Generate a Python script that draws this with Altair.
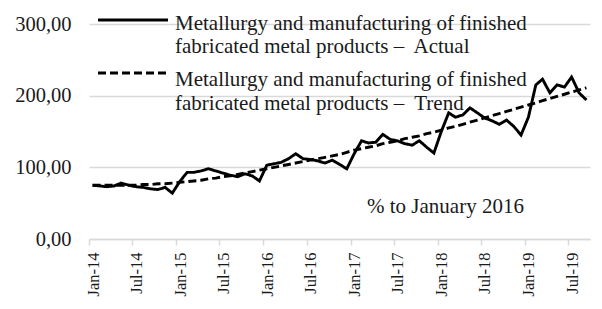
import altair as alt
import pandas as pd

# ---- data ----
start_month = "2014-01-01"
n_months = 69  # Jan-14 .. Sep-19

actual = [
    75, 74, 73, 74, 78, 75, 73, 72, 70, 69, 72, 64,          # 2014
    80, 93, 93, 95, 98, 95, 92, 89, 87, 91, 88, 81,          # 2015
    103, 105, 107, 112, 119, 112, 111, 109, 106, 110, 104, 98,  # 2016
    119, 137, 134, 135, 146, 139, 137, 133, 131, 137, 128, 120,  # 2017
    150, 176, 170, 173, 183, 176, 169, 165, 160, 166, 157, 145,  # 2018
    170, 215, 223, 204, 215, 212, 226, 204, 194,              # 2019
]

trend = [
    75, 75, 75, 75, 75, 75, 75, 76, 76, 77, 77, 78,
    79, 80, 81, 82, 84, 85, 87, 88, 90, 92, 94, 96,
    98, 100, 102, 104, 106, 108, 110, 112, 114, 116, 118, 121,
    124, 126, 128, 130, 133, 135, 137, 140, 142, 144, 147, 149,
    152, 155, 157, 160, 163, 166, 169, 172, 175, 178, 181, 184,
    187, 190, 193, 196, 199, 202, 205, 208, 211,
]

series_names = [
    "Metallurgy and manufacturing of finished\nfabricated metal products \u2013\u00a0 Actual",
    "Metallurgy and manufacturing of finished\nfabricated metal products \u2013\u00a0 Trend",
]
y_ticks = [0, 100, 200, 300]
tick_years = [2014, 2015, 2016, 2017, 2018, 2019]
tick_months = [1, 7]
note_text = "% to January 2016"

# ---- build table ----
dates = pd.date_range(start_month, periods=n_months, freq="MS") + pd.Timedelta(days=15)
df = pd.concat([
    pd.DataFrame({"date": dates, "value": actual, "series": series_names[0]}),
    pd.DataFrame({"date": dates, "value": trend, "series": series_names[1]}),
])

FONT = "Liberation Serif"
GRID = "#d9d9d9"
TXT = "#1a1a1a"

tick_values = [alt.DateTime(year=y, month=m, date=1) for y in tick_years for m in tick_months]

x_enc = alt.X(
    "date:T",
    title=None,
    scale=alt.Scale(domain=[alt.DateTime(year=2014, month=1, date=1),
                            alt.DateTime(year=2019, month=10, date=1)], nice=False),
    axis=alt.Axis(values=tick_values, format="%b-%y", labelAngle=-90,
                  labelFont=FONT, labelFontSize=16.5, labelColor=TXT,
                  labelOffset=4, labelPadding=7,
                  domainColor=GRID, domainWidth=1.5, tickColor=GRID, tickSize=6,
                  tickWidth=1.5, grid=False),
)
y_enc = alt.Y(
    "value:Q",
    title=None,
    scale=alt.Scale(domain=[0, 300], nice=False),
    axis=alt.Axis(values=y_ticks,
                  labelExpr="replace(format(datum.value, '.2f'), '.', ',')",
                  labelFont=FONT, labelFontSize=20.5, labelColor=TXT,
                  labelPadding=18, ticks=False, tickSize=0, domain=False,
                  grid=True, gridColor=GRID, gridWidth=1.5),
)

lines = alt.Chart(df).mark_line(strokeWidth=2.9, color="black").encode(
    x=x_enc,
    y=y_enc,
    strokeDash=alt.StrokeDash("series:N",
                              scale=alt.Scale(domain=series_names, range=[[1, 0], [8, 4]]),
                              legend=None),
)

layers = [lines]
legend_dashes = [[1, 0], [8, 4]]
symbol_y = [-4, 49]
text_y = [5.5, 62]
for i, name in enumerate(series_names):
    ldf = pd.DataFrame({"series": [name]})
    layers.append(
        alt.Chart(ldf).mark_rule(color="black", strokeWidth=2.9, strokeDash=legend_dashes[i]).encode(
            x=alt.value(9), x2=alt.value(79), y=alt.value(symbol_y[i])
        )
    )
    layers.append(
        alt.Chart(ldf).mark_text(align="left", baseline="alphabetic", lineBreak="\n",
                                 lineHeight=23.5, font=FONT, fontSize=21, color=TXT).encode(
            text="series:N", x=alt.value(86), y=alt.value(text_y[i])
        )
    )

note = alt.Chart(pd.DataFrame({"t": [note_text]})).mark_text(
    align="left", baseline="middle", font=FONT, fontSize=21, color=TXT
).encode(text="t:N", x=alt.value(278), y=alt.value(183))
layers.append(note)

chart = alt.layer(*layers).properties(
    width=501, height=215,
    autosize=alt.AutoSizeParams(type="none"),
    padding={"left": 81, "top": 16, "right": 4, "bottom": 66},
).configure_view(stroke=None)

chart.save("out.html", embed_options={"renderer": "svg", "actions": False})
